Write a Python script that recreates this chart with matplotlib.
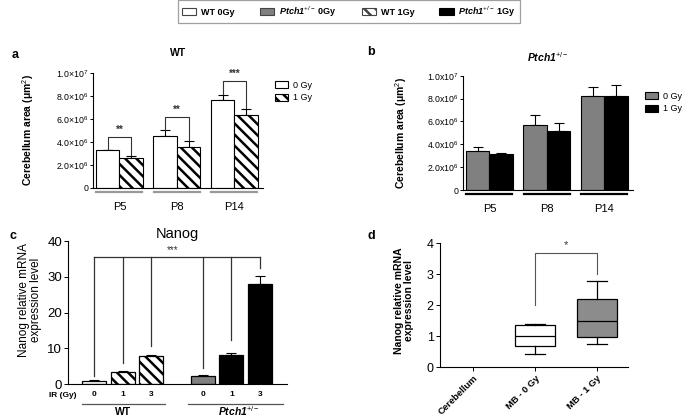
import matplotlib.pyplot as plt
from matplotlib.patches import Patch
from matplotlib.transforms import blended_transform_factory

plt.rcParams['font.family'] = ['Liberation Sans', 'DejaVu Sans']
plt.rcParams['mathtext.fontset'] = 'custom'
plt.rcParams['mathtext.rm'] = 'Liberation Sans'
plt.rcParams['mathtext.it'] = 'Liberation Sans:italic:bold'
plt.rcParams['mathtext.sf'] = 'Liberation Sans:italic:bold'
plt.rcParams['mathtext.bf'] = 'Liberation Sans:bold'
plt.rcParams['hatch.linewidth'] = 1.8

# panels a / b : cerebellum area
ages = ['P5', 'P8', 'P14']
wt_0gy = [3.28e6, 4.50e6, 7.60e6]
wt_0gy_err = [0.0, 0.50e6, 0.50e6]
wt_1gy = [2.60e6, 3.54e6, 6.35e6]
wt_1gy_err = [0.18e6, 0.52e6, 0.52e6]
ptch_0gy = [3.44e6, 5.69e6, 8.22e6]
ptch_0gy_err = [0.35e6, 0.87e6, 0.82e6]
ptch_1gy = [3.15e6, 5.19e6, 8.25e6]
ptch_1gy_err = [0.05e6, 0.70e6, 0.92e6]
wt_stars = ['**', '**', '***']
area_ticks = [0, 2e6, 4e6, 6e6, 8e6, 1e7]

# panel c : Nanog qPCR
ir_doses = ['0', '1', '3', '0', '1', '3']
nanog = [1.0, 3.4, 8.0, 2.4, 8.1, 27.9]
nanog_err = [0.1, 0.2, 0.2, 0.2, 0.5, 2.3]
nanog_legs = [2.4, 5.9, 10.7, 4.5, 12.4, 32.6]

# panel d : boxplots
box_groups = ['Cerebellum', 'MB - 0 Gy', 'MB - 1 Gy']
box_whislo = [0.42, 0.75]
box_q1 = [0.69, 0.98]
box_med = [1.0, 1.49]
box_q3 = [1.35, 2.21]
box_whishi = [1.40, 2.77]
box_colors = ['white', '#8c8c8c']

GREY = '#808080'
HATCH = '\\\\\\'
PTCH = r'$\mathsf{Ptch1}^{+/-}$'

W, H = 685, 417
fig = plt.figure(figsize=(W / 100, H / 100), dpi=100)


def px_axes(left, right, bottom, top):
    return fig.add_axes([left / W, 1 - bottom / H, (right - left) / W, (bottom - top) / H])


def style(ax):
    for s in ['top', 'right']:
        ax.spines[s].set_visible(False)
    ax.spines['left'].set_linewidth(0.8)
    ax.spines['bottom'].set_linewidth(0.8)


def sci(v, sep):
    if v == 0:
        return '0'
    e = len(str(int(v))) - 1
    return '%.1f%s10$^{%d}$' % (v / 10 ** e, sep, e)


def area_panel(ax, v0, e0, v1, e1, c0, c1, h0, h1, line_col, sep):
    style(ax)
    x = list(range(len(ages)))
    w = 0.41
    xl = [i - w / 2 for i in x]
    xr = [i + w / 2 for i in x]
    ax.bar(xl, v0, w, color=c0, edgecolor='black', lw=0.8, hatch=h0, zorder=2)
    ax.bar(xr, v1, w, color=c1, edgecolor='black', lw=0.8, hatch=h1, zorder=2)
    ax.errorbar(xl, v0, yerr=[[0] * 3, e0], fmt='none', ecolor='black', elinewidth=0.8, capsize=3.5, capthick=0.8, zorder=1)
    ax.errorbar(xr, v1, yerr=[[0] * 3, e1], fmt='none', ecolor='black', elinewidth=0.8, capsize=3.5, capthick=0.8, zorder=1)
    ax.set_xlim(-0.46, 2.5)
    ax.set_ylim(0, 1e7)
    ax.set_yticks(area_ticks)
    ax.set_yticklabels([sci(t, sep) for t in area_ticks], fontsize=6.3)
    ax.tick_params(axis='y', length=2.5, width=0.7, pad=1)
    ax.set_xticks(x)
    ax.set_xticklabels(ages, fontsize=8)
    ax.tick_params(axis='x', length=0, pad=10)
    tr = blended_transform_factory(ax.transData, ax.transAxes)
    for i in x:
        ax.plot([i - 0.4, i + 0.4], [-0.035, -0.035], transform=tr, color=line_col, lw=1.6, clip_on=False)


# ---- panel a
ax_a = px_axes(93, 263, 187.7, 72.7)
area_panel(ax_a, wt_0gy, wt_0gy_err, wt_1gy, wt_1gy_err, 'white', 'white', None, HATCH, '#999999', '\u00d7')
ax_a.set_title('WT', fontsize=7.5, fontweight='bold', pad=12)
ax_a.set_ylabel('Cerebellum area (\u03bcm$^{2}$)', fontsize=7.5, fontweight='bold')
ax_a.yaxis.set_label_coords(-0.335, 0.5)
for i in range(3):
    top = max(wt_0gy[i] + wt_0gy_err[i], wt_1gy[i] + wt_1gy_err[i]) + 1.15e6
    ax_a.plot([i - 0.205, i - 0.205, i + 0.205, i + 0.205],
              [wt_0gy[i] + wt_0gy_err[i] + 0.05e6, top, top, wt_1gy[i] + wt_1gy_err[i] + 0.1e6],
              color='#333333', lw=0.8, clip_on=False)
    ax_a.text(i, top + 0.2e6, wt_stars[i], ha='center', va='bottom', fontsize=7, fontweight='bold', color='#333333')
ax_a.legend(handles=[Patch(facecolor='white', edgecolor='black', lw=0.8),
                     Patch(facecolor='white', edgecolor='black', lw=0.8, hatch=HATCH)],
            labels=['0 Gy', '1 Gy'], loc='upper left', bbox_to_anchor=(1.02, 1.0), frameon=False,
            fontsize=6.5, handlelength=1.5, handleheight=0.8, handletextpad=0.5, labelspacing=0.4)

# ---- panel b
ax_b = px_axes(463, 633, 190, 75.7)
area_panel(ax_b, ptch_0gy, ptch_0gy_err, ptch_1gy, ptch_1gy_err, GREY, 'black', None, None, 'black', 'x')
ax_b.set_title(PTCH, fontsize=7.5, pad=10)
ax_b.set_ylabel('Cerebellum area (\u03bcm$^{2}$)', fontsize=7.5, fontweight='bold')
ax_b.yaxis.set_label_coords(-0.32, 0.5)
ax_b.legend(handles=[Patch(facecolor=GREY, edgecolor='black', lw=0.8),
                     Patch(facecolor='black', edgecolor='black', lw=0.8)],
            labels=['0 Gy', '1 Gy'], loc='upper left', bbox_to_anchor=(1.02, 0.93), frameon=False,
            fontsize=6.5, handlelength=1.5, handleheight=0.8, handletextpad=0.5, labelspacing=0.4)

# ---- panel c
ax_c = px_axes(68.3, 286.7, 384.3, 241)
style(ax_c)
xc = [0, 1, 2, 3.82, 4.82, 5.82]
c_face = ['white', 'white', 'white', GREY, 'black', 'black']
c_hatch = [None, HATCH, HATCH, None, None, None]
for xi, v, fc, hh in zip(xc, nanog, c_face, c_hatch):
    ax_c.bar(xi, v, 0.85, color=fc, edgecolor='black', lw=0.9, hatch=hh, zorder=2)
ax_c.errorbar(xc, nanog, yerr=[[0] * 6, nanog_err], fmt='none', ecolor='black', elinewidth=0.8,
              capsize=3.5, capthick=0.8, zorder=1)
ax_c.set_xlim(-0.92, 6.77)
ax_c.set_ylim(0, 40)
ax_c.set_yticks([0, 10, 20, 30, 40])
ax_c.tick_params(axis='y', labelsize=9.5, length=3, width=0.7, pad=1.5)
ax_c.set_xticks(xc)
ax_c.set_xticklabels(ir_doses, fontsize=6, fontweight='bold')
ax_c.tick_params(axis='x', length=0, pad=5)
ax_c.set_title('Nanog', fontsize=10.5, pad=0)
ax_c.set_ylabel('Nanog relative mRNA\nexpression level', fontsize=8.5, linespacing=1.0)
ax_c.yaxis.set_label_coords(-0.12, 0.59)
bar_top = 35.6
ax_c.plot([xc[0], xc[-1]], [bar_top, bar_top], color='#333333', lw=0.9)
for xi, low in zip(xc, nanog_legs):
    ax_c.plot([xi, xi], [low, bar_top], color='#333333', lw=0.9)
ax_c.text(2.75, bar_top + 0.6, '***', ha='center', va='bottom', fontsize=7, color='#333333')
trc = blended_transform_factory(ax_c.transData, ax_c.transAxes)
ax_c.text(-1.12, -0.075, 'IR (Gy)', transform=trc, ha='center', va='center', fontsize=6, fontweight='bold')
ax_c.plot([-0.45, 2.5], [-0.135, -0.135], transform=trc, color='#555555', lw=0.9, clip_on=False)
ax_c.plot([3.3, 6.65], [-0.135, -0.135], transform=trc, color='#555555', lw=0.9, clip_on=False)
ax_c.text(1.0, -0.19, 'WT', transform=trc, ha='center', va='center', fontsize=7.5, fontweight='bold')
ax_c.text(5.1, -0.19, PTCH, transform=trc, ha='center', va='center', fontsize=7.5)

# ---- panel d
ax_d = px_axes(440, 628, 367, 243.3)
style(ax_d)
stats = []
for lo, q1, md, q3, hi in zip(box_whislo, box_q1, box_med, box_q3, box_whishi):
    stats.append(dict(whislo=lo, q1=q1, med=md, q3=q3, whishi=hi, fliers=[]))
bp = ax_d.bxp(stats, positions=[1, 2], widths=0.65, patch_artist=True, showfliers=False,
              boxprops=dict(lw=0.9, edgecolor='black'), medianprops=dict(color='black', lw=0.9),
              whiskerprops=dict(lw=0.9), capprops=dict(lw=0.9), capwidths=0.32)
for patch, col in zip(bp['boxes'], box_colors):
    patch.set_facecolor(col)
ax_d.set_xlim(-0.53, 2.5)
ax_d.set_ylim(0, 4)
ax_d.set_yticks([0, 1, 2, 3, 4])
ax_d.tick_params(axis='y', labelsize=9, length=3, width=0.7, pad=1.5)
ax_d.set_xticks([0, 1, 2])
ax_d.set_xticklabels(box_groups, fontsize=6.8, fontweight='bold', rotation=45, ha='right', rotation_mode='anchor')
ax_d.tick_params(axis='x', length=3, width=0.7, pad=2)
ax_d.set_ylabel('Nanog relative mRNA\nexpression level', fontsize=7.5, fontweight='bold', linespacing=1.0)
ax_d.yaxis.set_label_coords(-0.14, 0.54)
ax_d.plot([1, 1, 2, 2], [2.0, 3.68, 3.68, 3.0], color='#555555', lw=0.8)
ax_d.text(1.5, 3.78, '*', ha='center', va='bottom', fontsize=8, color='#333333')

# ---- panel letters
for letter, (px, py) in zip('abcd', [(12, 55), (367, 52), (10, 236), (368, 236)]):
    fig.text(px / W, 1 - py / H, letter, fontsize=9, fontweight='bold', ha='left', va='center')

# ---- top legend
handles = [Patch(facecolor='white', edgecolor='#444444', lw=0.8),
           Patch(facecolor=GREY, edgecolor='#444444', lw=0.8),
           Patch(facecolor='white', edgecolor='#444444', lw=0.8, hatch=HATCH),
           Patch(facecolor='black', edgecolor='black', lw=0.8)]
labels = ['WT 0Gy', PTCH + ' 0Gy', 'WT 1Gy', PTCH + ' 1Gy']
leg = fig.legend(handles, labels, loc='center', bbox_to_anchor=(349 / W, 1 - 11.5 / H), ncol=4,
                 frameon=True, fancybox=False, edgecolor='#888888',
                 prop=dict(weight='bold', size=6.5), handlelength=1.6, handleheight=0.7,
                 handletextpad=0.5, columnspacing=2.8, borderpad=0.45)
leg.get_frame().set_linewidth(0.9)

fig.savefig('out.png', dpi=100)
